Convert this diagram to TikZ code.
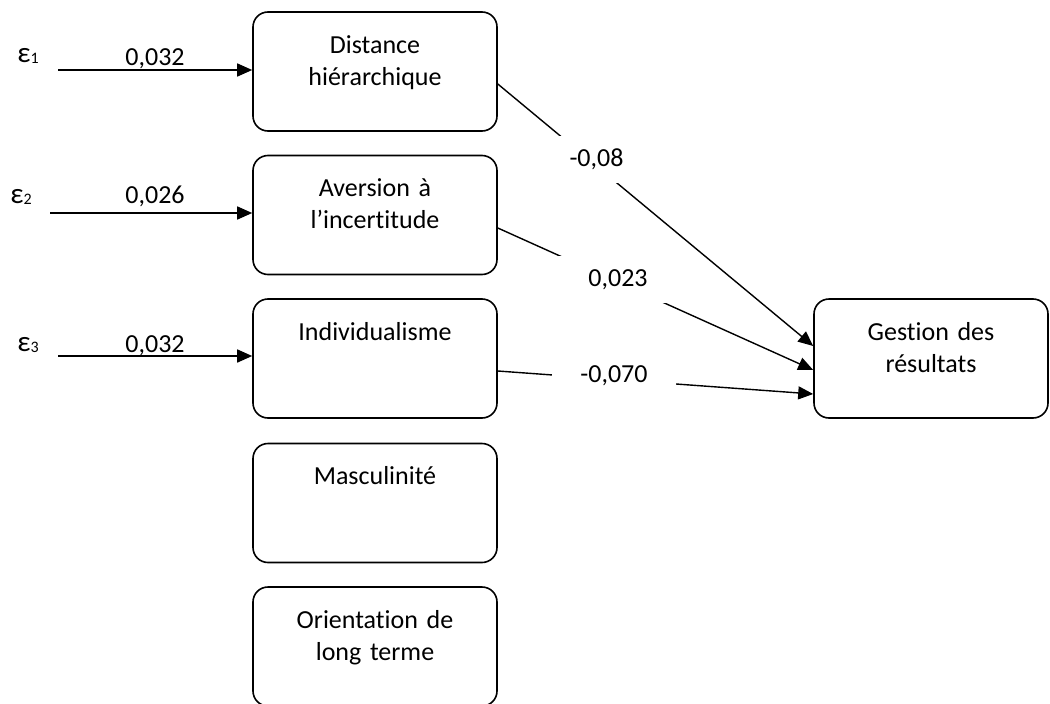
\documentclass[tikz,border=0pt]{standalone}
\usepackage{fontspec}
\setmainfont[Ligatures=NoCommon]{Carlito}
\usetikzlibrary{arrows.meta}

\newcommand{\erreur}[1]{{\fontsize{29}{29}\selectfont ε}\raisebox{-1pt}{\fontsize{16}{16}\selectfont #1}}

\begin{document}
\begin{tikzpicture}[x=1pt,y=-1pt,
  every node/.style={font=\fontsize{26}{32}\selectfont},
  facteur/.style={draw, rounded corners=15pt, line width=1.6pt, text width=236pt, align=center,
    inner xsep=4pt, inner ysep=24pt, text height=17pt, text depth=54pt},
  fleche/.style={line width=1.6pt, -{Triangle[length=15pt,width=13pt]}},
  coef/.style={fill=white, inner xsep=28pt, inner ysep=13pt}]
%\draw [lightgray] (0,0) grid [step=50pt] (1050,704);
\useasboundingbox (0,0) rectangle (1050,704);

\node [facteur] (dist) at (375,71.5) {Distance\\hiérarchique};
\node [facteur] (aver) at (375,215) {Aversion à\\l’incertitude};
\node [facteur] (indiv) at (375,358.5) {Individualisme};
\node [facteur] (masc) at (375,503) {Masculinité};
\node [facteur] (orient) at (375,646.5) {Orientation de\\long terme};
\node [facteur, text width=226pt] (gest) at (931,358.5) {Gestion des\\résultats}; % variable expliquee

% termes d'erreur
\node (e1) at (28,56) {\erreur{1}};
\node (e2) at (21,197) {\erreur{2}};
\node (e3) at (28,345) {\erreur{3}};
\coordinate (s1) at (58,70);
\coordinate (s2) at (50,213);
\coordinate (s3) at (58,356);
\draw [fleche] (s1) -- (s1 -| dist.west);
\draw [fleche] (s2) -- (s2 -| aver.west);
\draw [fleche] (s3) -- (s3 -| indiv.west);
\node (c1) at (155,58.5) {0,032};
\node (c2) at (155,196.5) {0,026};
\node (c3) at (155,345.5) {0,032};

% chemins vers la gestion des resultats
\draw [fleche, line width=1.4pt] ([yshift=-12.5pt]dist.east) -- ([yshift=12.5pt]gest.west);
\draw [fleche, line width=1.4pt] ([yshift=-13pt]aver.east) -- ([yshift=-11.5pt]gest.west);
\draw [fleche, line width=1.4pt] ([yshift=-12.5pt]indiv.east) -- ([yshift=-35.5pt]gest.west);
\node [coef] (k1) at (596.5,159.5) {-0,08};
\node [coef, inner xsep=36pt] (k2) at (618,279.5) {0,023};
\node [coef] (k3) at (614,375.5) {-0,070};

\end{tikzpicture}
\end{document}
